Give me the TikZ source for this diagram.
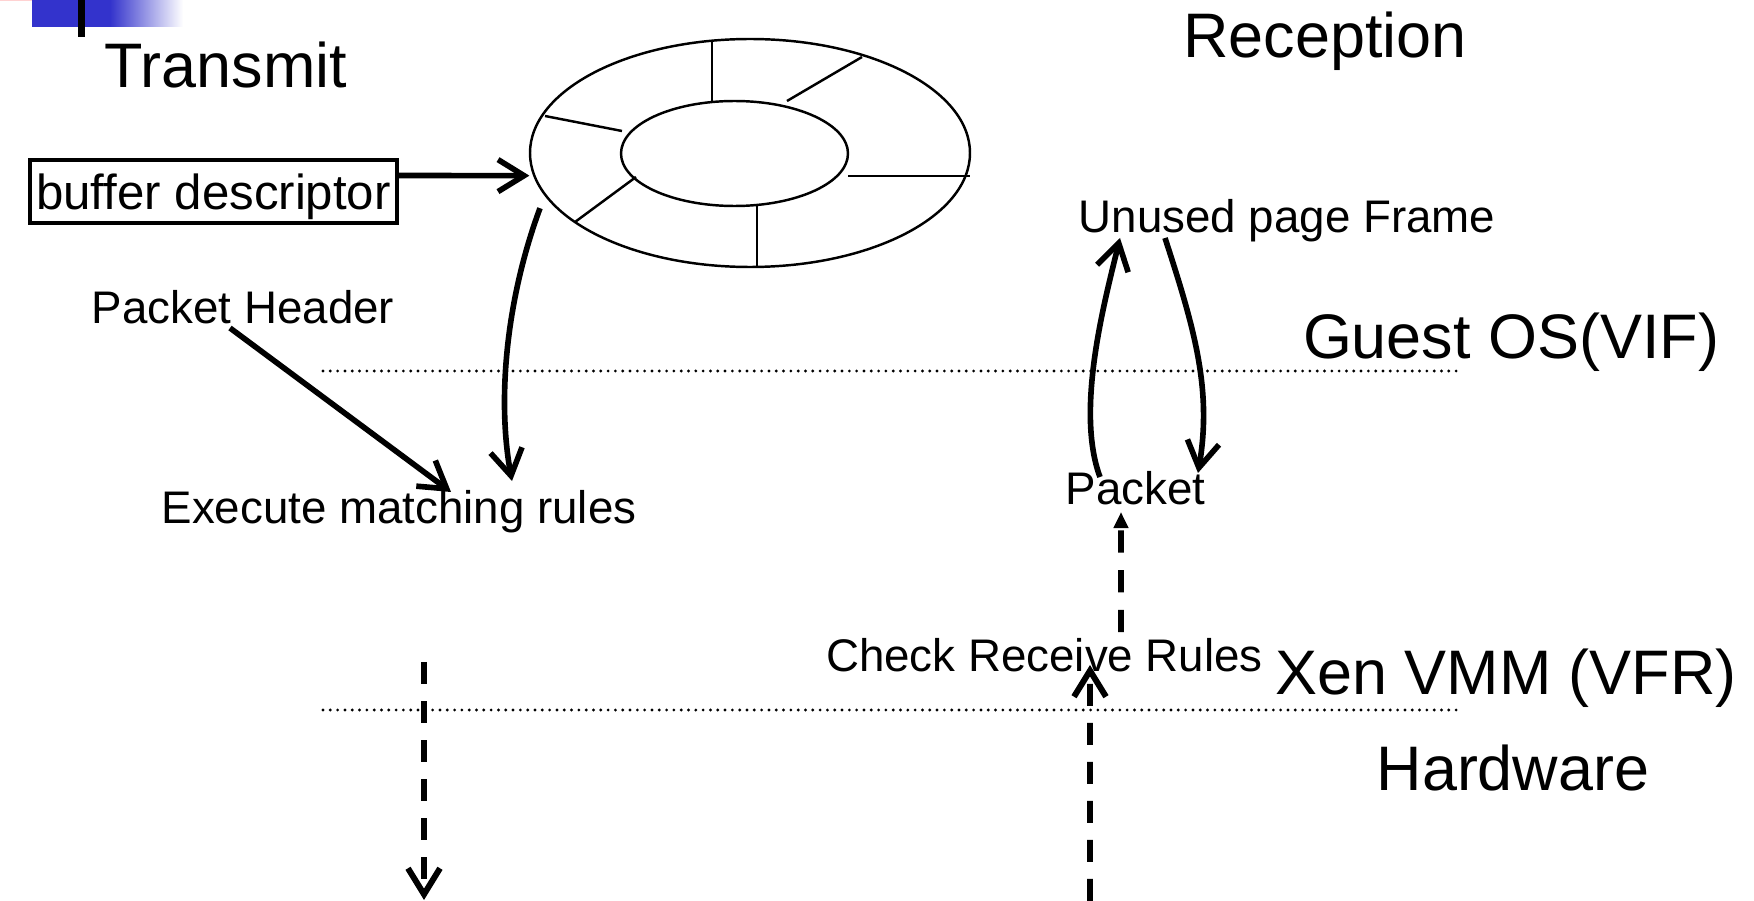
\documentclass[tikz,border=0pt]{standalone}
\usepackage{fontspec}
\setmainfont{Liberation Sans}
\usetikzlibrary{arrows.meta,shapes.geometric}

\definecolor{slideblue}{RGB}{51,51,204}
\definecolor{slidepink}{RGB}{255,210,210}

\tikzset{
  layer/.style={font=\fontsize{17.9}{20}\selectfont, inner sep=0pt, anchor=base},
  lbl/.style={font=\fontsize{13}{15}\selectfont, inner sep=0pt, anchor=base},
  flow/.style={line width=1.6pt, -{Straight Barb[length=2.6mm,width=3.2mm]}},
  hop/.style={line width=1.7pt, dash pattern=on 6.3pt off 4.8pt, -{Straight Barb[length=2.6mm,width=3.2mm]}},
  boundary/.style={line width=0.9pt, line cap=round, dash pattern=on 0pt off 2.08pt},
  slot/.style={draw, ellipse, line width=0.7pt, inner sep=0pt, outer sep=0pt},
}

\begin{document}
\begin{tikzpicture}
\useasboundingbox (0,0) rectangle (17.54,-9.01);
\fill[slidepink] (0,0) rectangle (0.63,-0.012);
\fill[slideblue] (0.32,0) rectangle (1.10,-0.27);
\shade[left color=slideblue, right color=white] (1.10,0) rectangle (1.83,-0.27);
\fill (0.78,0) rectangle (0.85,-0.37);

\node[layer] (tx) at (2.26,-0.88) {Transmit};
\node[layer] (rx) at (13.25,-0.58) {Reception};
\node[layer] (guest) at (15.11,-3.58) {Guest OS(VIF)};
\node[layer] (vmm) at (15.06,-6.95) {Xen VMM (VFR)};
\node[layer] (hw) at (15.13,-7.90) {Hardware};

\draw[boundary] (3.23,-3.71) -- (14.58,-3.71);
\draw[boundary] (3.23,-7.10) -- (14.58,-7.10);

% descriptor ring
\node[slot, minimum width=4.4cm, minimum height=2.28cm] (ring) at (7.50,-1.53) {};
\node[slot, minimum width=2.27cm, minimum height=1.05cm] (hub) at (7.345,-1.535) {};
\foreach \xa/\ya/\xb/\yb in {7.12/-0.40/7.12/-1.02, 8.62/-0.57/7.87/-1.01,
    5.45/-1.16/6.22/-1.31, 8.48/-1.76/9.70/-1.76, 6.36/-1.77/5.75/-2.22,
    7.57/-2.06/7.57/-2.67}
  \draw[line width=0.7pt] (\xa,\ya) -- (\xb,\yb);

\node[draw, line width=1pt, minimum width=3.67cm, minimum height=0.63cm, inner sep=0pt, outer sep=0pt,
  text depth=0pt, font=\fontsize{14}{16}\selectfont] (buf) at (2.135,-1.915) {buffer descriptor};

\node[lbl] (hdr) at (2.43,-3.24) {Packet Header};
\node[lbl] (exec) at (3.99,-5.24) {Execute matching rules};
\node[lbl] (unused) at (12.87,-2.33) {Unused page Frame};
\node[lbl] (pkt) at (11.355,-5.05) {Packet};
\node[lbl] (check) at (10.445,-6.71) {Check Receive Rules};

\coordinate (txgo) at (4.24,-6.62);
\coordinate (txwire) at (4.24,-9.00);
\coordinate (rxwire) at (10.90,-9.01);

% transmit side
\draw[flow] ([yshift=1.6mm]buf.east) -- ([xshift=-0.5mm]ring.186);
\draw[flow] ([xshift=-1.75mm]ring.196) .. controls (5.06,-3.00) and (4.97,-4.00) .. ([shift={(1.13,0.43)}]exec.base);
\draw[flow] ([shift={(-0.13,-0.04)}]hdr.base) -- ([shift={(0.52,0.32)}]exec.base);
\draw[hop] (txgo) -- (txwire);

% receive side
\draw[flow] ([shift={(-0.355,0.28)}]pkt.base) .. controls (10.75,-4.10) and (11.05,-3.00) .. ([shift={(-1.67,-0.05)}]unused.base);
\draw[flow] ([shift={(-1.22,-0.05)}]unused.base) .. controls (11.95,-3.30) and (12.12,-3.90) .. ([shift={(0.625,0.32)}]pkt.base);
\draw[hop] (rxwire) -- ([shift={(0.455,0.06)}]check.base);
\draw[line width=1.7pt, dash pattern=on 6.3pt off 5pt, -{Triangle[length=1.6mm,width=1.4mm]}]
  ([shift={(0.765,0.39)}]check.base) -- ([shift={(-0.145,-0.07)}]pkt.base);
\end{tikzpicture}
\end{document}
